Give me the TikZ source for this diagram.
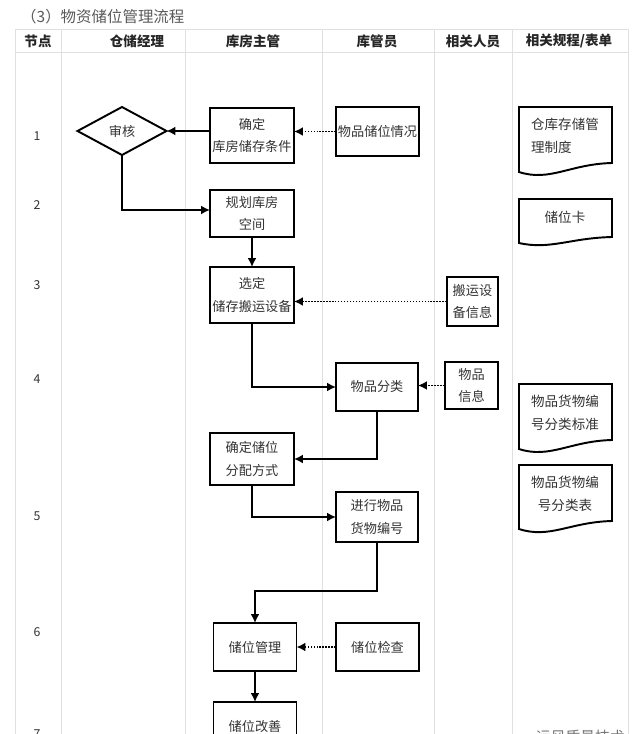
\documentclass[tikz,border=0pt]{standalone}
\usepackage{fontspec}
\setmainfont{Noto Sans CJK SC}
\usetikzlibrary{arrows.meta, positioning, shapes.geometric}

\definecolor{inkgray}{gray}{0.2}
\definecolor{gridgray}{gray}{0.88}

\tikzset{
    box/.style={draw, line width=1.1pt, inner sep=0pt, outer sep=0pt, align=center, text=inkgray, font=\fontsize{7.5}{13}\selectfont},
    docbox/.style={inner sep=0pt, text=inkgray, font=\fontsize{7.7}{13}\selectfont},
    head/.style={font=\bfseries\fontsize{7.7}{10}\selectfont, text=black!85},
    rownum/.style={font=\fontsize{7}{9}\selectfont, text=inkgray},
    flow/.style={line width=1.1pt, -{Latex[length=5pt,width=5pt]}},
    feed/.style={line width=1.1pt, dash pattern=on 0.9pt off 0.8pt, -{Latex[length=5pt,width=5pt]}},
    wave/.style={line width=1.1pt}
}

\begin{document}
\begin{tikzpicture}[x=0.02cm, y=-0.02cm]
    \useasboundingbox (0,0) rectangle (636,734);
    \clip (0,0) rectangle (636,734);

    % title
    \node[anchor=west, text=black!65, font=\fontsize{8.8}{10}\selectfont] (title) at (15,17) {（3）物资储位管理流程};

    % table grid
    \foreach \x in {15,61,185,322,434,512,628}
        \draw[gridgray, line width=0.45pt] (\x,29) -- (\x,734);
    \draw[gridgray, line width=0.45pt] (15,29) -- (628,29);
    \draw[gridgray, line width=0.45pt] (15,52) -- (628,52);

    % header row
    \node[head] (h1) at (38,41) {节点};
    \node[head] (h2) at (137,41) {仓储经理};
    \node[head] (h3) at (253,41) {库房主管};
    \node[head] (h4) at (377,41) {库管员};
    \node[head] (h5) at (473,41) {相关人员};
    \node[head] (h6) at (569,41) {相关规程/表单};

    % row numbers
    \foreach \n/\y in {1/136,2/205,3/285,4/379,5/516,6/632,7/734}
        \node[rownum] (row\n) at (37,\y) {\n};

    % flow nodes
    \node[box, diamond, aspect=1.85, minimum width=89*0.02cm, minimum height=48*0.02cm] (audit) at (122,131) {审核};
    \node[box, minimum width=84*0.02cm, minimum height=55*0.02cm] (confirm) at (252,135.5) {确定\\库房储存条件};
    \node[box, minimum width=83*0.02cm, minimum height=49*0.02cm] (status) at (377.5,131.5) {物品储位情况};
    \node[box, minimum width=84*0.02cm, minimum height=47*0.02cm] (plan) at (252,213.5) {规划库房\\空间};
    \node[box, minimum width=84*0.02cm, minimum height=56*0.02cm] (select) at (252,295) {选定\\储存搬运设备};
    \node[box, minimum width=51*0.02cm, minimum height=49*0.02cm] (carry) at (472.5,301.5) {搬运设\\备信息};
    \node[box, minimum width=82*0.02cm, minimum height=48*0.02cm] (classify) at (377,387) {物品分类};
    \node[box, minimum width=53*0.02cm, minimum height=47*0.02cm] (goods) at (471.5,385.5) {物品\\信息};
    \node[box, minimum width=84*0.02cm, minimum height=52*0.02cm] (method) at (252,459) {确定储位\\分配方式};
    \node[box, minimum width=82*0.02cm, minimum height=50*0.02cm] (number) at (377,517) {进行物品\\货物编号};
    \node[box, minimum width=83*0.02cm, minimum height=48*0.02cm] (store) at (255,647) {储位管理};
    \node[box, minimum width=83*0.02cm, minimum height=48*0.02cm] (check) at (377.5,647) {储位检查};
    \node[box, minimum width=83*0.02cm, minimum height=48*0.02cm] (improve) at (255,726) {储位改善};

    % connectors
    \draw[flow] (confirm.west |- audit.east) -- (audit.east);
    \draw[feed] (status.west) -- (confirm.east |- status.west);
    \coordinate (planin) at (plan.west |- 0,210);
    \draw[flow] (audit.south) |- (planin);
    \draw[flow] (plan.south) -- (select.north);
    \draw[feed] (carry.west) -- (select.east |- carry.west);
    \draw[flow] (select.south) |- (classify.west);
    \draw[feed] (goods.west) -- (classify.east |- goods.west);
    \draw[flow] (classify.south) |- (method.east);
    \draw[flow] (method.south) |- (number.west);
    \coordinate (turn) at (number.south |- 0,591);
    \draw[flow] (number.south) -- (turn) -| (store.north);
    \draw[feed] (check.west) -- (store.east);
    \draw[flow] (store.south) -- (improve.north);

    % document shapes
    \node[docbox, align=left] (rule1) at (565,136) {仓库存储管\\理制度};
    \node[docbox, align=center] (rule2) at (565,217) {储位卡};
    \node[docbox, align=center] (rule3) at (565,413) {物品货物编\\号分类标准};
    \node[docbox, align=center] (rule4) at (565,494) {物品货物编\\号分类表};

    \draw[wave] (519,107) -- (612,107) -- (612,163) .. controls (570,164) and (550,182) .. (519,172) -- cycle;
    \draw[wave] (519,199) -- (612,199) -- (612,237) .. controls (570,238) and (550,250) .. (519,243) -- cycle;
    \draw[wave] (519,384) -- (612,384) -- (612,440) .. controls (570,441) and (550,459) .. (519,449) -- cycle;
    \draw[wave] (519,465) -- (612,465) -- (612,521) .. controls (570,522) and (550,539) .. (519,529) -- cycle;

    % watermark, cut by the page edge
    \node[anchor=west, text=black!55, font=\fontsize{8.4}{10}\selectfont] (mark) at (530,737) {运风质量技术};
\end{tikzpicture}
\end{document}
